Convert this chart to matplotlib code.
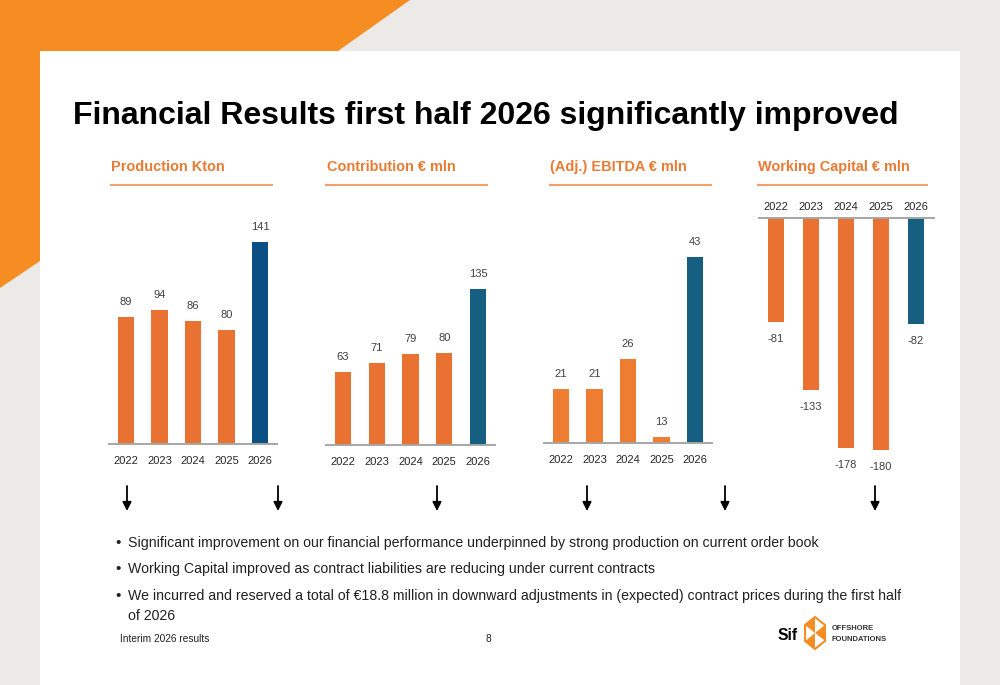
import matplotlib
matplotlib.use('Agg')
import matplotlib.pyplot as plt
from matplotlib import font_manager
from matplotlib.patches import Polygon, Rectangle
import numpy as np

# data
years = ['2022', '2023', '2024', '2025', '2026']
production = [89, 94, 86, 80, 141]
contribution = [63, 71, 79, 80, 135]
ebitda = [21, 21, 26, 13, 43]
working_capital = [-81, -133, -178, -180, -82]

panel_titles = ['Production Kton', 'Contribution € mln', '(Adj.) EBITDA € mln', 'Working Capital € mln']
bullets = [
    'Significant improvement on our financial performance underpinned by strong production on current order book',
    'Working Capital improved as contract liabilities are reducing under current contracts',
    'We incurred and reserved a total of €18.8 million in downward adjustments in (expected) contract prices during the first half',
]
bullet_tail = 'of 2026'
title = 'Financial Results first half 2026 significantly improved'

W, H = 1000, 685
BG = '#EBEAE6'
ORANGE_BG = '#F68D22'
ORANGE_TXT = '#E97B35'
ORANGE_LINE = '#F0A068'
BAR_OR = '#E97132'
BAR_OR2 = '#EE7D31'
BLUE1 = '#0B5084'
BLUE2 = '#175F80'


def pick(*names):
    have = {f.name for f in font_manager.fontManager.ttflist}
    for n in names:
        if n in have:
            return n
    return 'DejaVu Sans'


NARROW = pick('Liberation Sans Narrow', 'Liberation Sans', 'Roboto')
plt.rcParams['font.family'] = [NARROW, 'DejaVu Sans']

fig = plt.figure(figsize=(W / 100, H / 100), dpi=100)
fig.patch.set_facecolor(BG)
renderer = fig.canvas.get_renderer()


def fit(t, target):
    w = t.get_window_extent(renderer=renderer).width
    t.set_fontsize(t.get_fontsize() * target / w)
    return t.get_fontsize()


# background decoration axes in pixel coordinates
bg = fig.add_axes([0, 0, 1, 1])
bg.set_xlim(0, W)
bg.set_ylim(H, 0)
bg.axis('off')
bg.add_patch(Polygon([(0, 0), (410, 0), (338, 51), (40, 51), (40, 261), (0, 288)],
                     closed=True, color=ORANGE_BG, lw=0))
bg.add_patch(Rectangle((40, 51), 920, H - 51, color='white', lw=0))

t = bg.text(73, 124, title, fontsize=26, fontweight='bold', color='black', va='baseline')
fit(t, 827)

# panel headers
hdr_x = [111, 327, 550, 758]
line_x = [(110, 273), (325, 488), (549, 712), (757, 928)]
hs = None
for i, (name, x) in enumerate(zip(panel_titles, hdr_x)):
    ht = bg.text(x, 171, name, fontsize=12, fontweight='bold', color=ORANGE_TXT, va='baseline')
    if hs is None:
        hs = fit(ht, 113)
    else:
        ht.set_fontsize(hs)
    bg.plot(line_x[i], [185, 185], color=ORANGE_LINE, lw=1.5, solid_capstyle='butt')


def px_axes(left, top, right, bottom):
    return fig.add_axes([left / W, 1 - bottom / H, (right - left) / W, (bottom - top) / H])


# layout: (center of first bar, spacing, baseline px, px per unit, axis floor value)
layout = [
    (126, 33.5, 444, 1.43, 0),
    (343, 33.75, 445, 1.155, 0),
    (561, 33.5, 443, 6.0, 12),
    (776, 35.0, 218, 1.29, 0),
]
series = [production, contribution, ebitda, working_capital]
bar_colors = [
    [BAR_OR] * 4 + [BLUE1],
    [BAR_OR] * 4 + [BLUE2],
    [BAR_OR2] * 4 + [BLUE2],
    [BAR_OR] * 4 + [BLUE2],
]

x = np.arange(len(years))
for i, (vals, cols) in enumerate(zip(series, bar_colors)):
    c0, sp, base, k, floor = layout[i]
    left = c0 - sp / 2
    right = left + sp * len(years)
    if i < 3:
        ax = px_axes(left, base - 230, right, base)
        ax.set_ylim(floor, floor + 230 / k)
        spine = 'bottom'
    else:
        ax = px_axes(left, base, right, base + 250)
        ax.set_ylim(-250 / k, 0)
        spine = 'top'
    ax.set_xlim(-0.5, len(years) - 0.5)
    ax.set_facecolor('none')
    ax.bar(x, vals, width=0.48, color=cols, edgecolor='none', zorder=2)
    for s in ax.spines.values():
        s.set_visible(False)
    ax.spines[spine].set_visible(True)
    ax.spines[spine].set_color('#A6A6A6')
    ax.spines[spine].set_linewidth(1.4)
    ax.set_yticks([])
    ax.set_xticks(x)
    ax.set_xticklabels(years, fontsize=8, color='#262626')
    if spine == 'top':
        ax.xaxis.tick_top()
        ax.tick_params(axis='x', length=0, pad=4.5)
    else:
        ax.tick_params(axis='x', length=0, pad=8.5)
    for xi, v in zip(x, vals):
        off = 15 if v >= 0 else -17
        ax.annotate(str(v), (xi, v), xytext=(0, off), textcoords='offset pixels',
                    ha='center', va='center', fontsize=8, color='#404040')

# arrows under the panels
for ax_x in [127, 278, 437, 587, 725, 875]:
    bg.annotate('', xy=(ax_x, 511), xytext=(ax_x, 486),
                arrowprops=dict(arrowstyle='-|>', color='black', lw=1.3,
                                mutation_scale=13, shrinkA=0, shrinkB=0))

# bullet list
bs = None
for j, (txt, yb) in enumerate(zip(bullets, [547, 573, 600])):
    bg.text(115, yb, '•', fontsize=11, color='#202020', va='baseline')
    bt = bg.text(128, yb, txt, fontsize=12, color='#202020', va='baseline')
    if bs is None:
        bs = fit(bt, 692)
    else:
        bt.set_fontsize(bs)
bg.text(128, 620, bullet_tail, fontsize=bs, color='#202020', va='baseline')

ft = bg.text(120, 642, 'Interim 2026 results', fontsize=8, color='#202020', va='baseline')
fs = fit(ft, 89)
bg.text(485, 642, '8', fontsize=fs, color='#202020', va='baseline')

# logo
lt = bg.text(777, 640, 'Sif', fontsize=16, fontweight='bold', color='black', va='baseline')
fit(lt, 20)
cx, cy, rx, ry = 815, 633, 11.5, 16
ang = np.deg2rad([90, 30, -30, -90, -150, 150])
verts = [(cx + rx * np.cos(a), cy - ry * np.sin(a)) for a in ang]
for s in range(6):
    tri = [(cx, cy), verts[s], verts[(s + 1) % 6]]
    bg.add_patch(Polygon(tri, closed=True, facecolor='white' if s % 2 == 0 else ORANGE_BG,
                         edgecolor='none'))
bg.add_patch(Polygon(verts, closed=True, fill=False, edgecolor=ORANGE_BG, lw=1.5))
bg.text(832, 630, 'OFFSHORE', fontsize=5.5, fontweight='bold', color='#333333', va='baseline')
bg.text(832, 641, 'FOUNDATIONS', fontsize=5.5, fontweight='bold', color='#333333', va='baseline')

fig.savefig('out.png', dpi=100, facecolor=fig.get_facecolor())
